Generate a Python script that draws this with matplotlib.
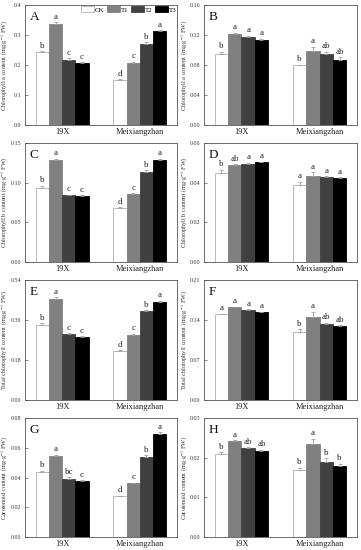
import matplotlib
matplotlib.use("Agg")
import matplotlib.pyplot as plt
import numpy as np

plt.rcParams['font.family'] = ['Liberation Serif', 'DejaVu Serif']
plt.rcParams['mathtext.fontset'] = 'stix'

cultivars = ["19X", "Meixiangzhan"]
treatments = ["CK", "T1", "T2", "T3"]
colors = ["#ffffff", "#808080", "#404040", "#000000"]

# values[treatment][cultivar]
chla = [[0.242, 0.149], [0.336, 0.207], [0.217, 0.271], [0.206, 0.312]]
chla_err = [[0.004, 0.003], [0.006, 0.004], [0.005, 0.005], [0.003, 0.004]]
chla_let = [["b", "d"], ["a", "c"], ["c", "b"], ["c", "a"]]

chla2 = [[0.0947, 0.0796], [0.1213, 0.0991], [0.1173, 0.0947], [0.1133, 0.0871]]
chla2_err = [[0.003, 0.001], [0.002, 0.005], [0.002, 0.003], [0.002, 0.003]]
chla2_let = [["b", "b"], ["a", "a"], ["a", "ab"], ["a", "ab"]]

chlb = [[0.093, 0.068], [0.129, 0.086], [0.084, 0.114], [0.083, 0.129]]
chlb_err = [[0.003, 0.001], [0.001, 0.001], [0.001, 0.002], [0.001, 0.001]]
chlb_let = [["b", "d"], ["a", "c"], ["c", "b"], ["c", "a"]]

chlb2 = [[0.045, 0.039], [0.049, 0.0433], [0.0496, 0.0428], [0.0503, 0.0423]]
chlb2_err = [[0.0015, 0.0015], [0.0004, 0.002], [0.0005, 0.0004], [0.0003, 0.0004]]
chlb2_let = [["b", "a"], ["ab", "a"], ["a", "a"], ["a", "a"]]

tot = [[0.338, 0.2205], [0.455, 0.294], [0.297, 0.399], [0.285, 0.4425]]
tot_err = [[0.008, 0.003], [0.008, 0.005], [0.004, 0.005], [0.003, 0.005]]
tot_let = [["b", "d"], ["a", "c"], ["c", "b"], ["c", "a"]]

tot2 = [[0.150, 0.1196], [0.162, 0.1458], [0.1575, 0.1336], [0.1534, 0.1295]]
tot2_err = [[0.001, 0.004], [0.001, 0.009], [0.001, 0.002], [0.001, 0.001]]
tot2_let = [["a", "b"], ["a", "a"], ["a", "ab"], ["a", "ab"]]

car = [[0.044, 0.0273], [0.0547, 0.036], [0.0393, 0.054], [0.0376, 0.0693]]
car_err = [[0.0005, 0.0005], [0.0005, 0.0004], [0.0008, 0.0010], [0.0004, 0.0010]]
car_let = [["b", "d"], ["a", "c"], ["bc", "b"], ["c", "a"]]

car2 = [[0.0208, 0.0170], [0.0241, 0.0234], [0.0225, 0.0188], [0.0217, 0.0180]]
car2_err = [[0.0006, 0.0005], [0.0003, 0.0014], [0.0002, 0.0010], [0.0003, 0.0005]]
car2_let = [["b", "b"], ["a", "a"], ["ab", "b"], ["ab", "b"]]

unit = r" (mg$\cdot$g$^{-1}$ FW)"
panels = [
    ("A", chla, chla_err, chla_let, 0.4, [0.0, 0.1, 0.2, 0.3, 0.4], "%.1f", "Chlorophyll a content"),
    ("B", chla2, chla2_err, chla2_let, 0.16, [0.0, 0.04, 0.08, 0.12, 0.16], "%.2f", "Chlorophyll a content"),
    ("C", chlb, chlb_err, chlb_let, 0.15, [0.0, 0.05, 0.10, 0.15], "%.2f", "Chlorophyll b content"),
    ("D", chlb2, chlb2_err, chlb2_let, 0.06, [0.0, 0.02, 0.04, 0.06], "%.2f", "Chlorophyll b content"),
    ("E", tot, tot_err, tot_let, 0.54, [0.0, 0.18, 0.36, 0.54], "%.2f", "Total chlorophyll content"),
    ("F", tot2, tot2_err, tot2_let, 0.21, [0.0, 0.07, 0.14, 0.21], "%.2f", "Total chlorophyll content"),
    ("G", car, car_err, car_let, 0.08, [0.0, 0.02, 0.04, 0.06, 0.08], "%.2f", "Carotenoid content"),
    ("H", car2, car2_err, car2_let, 0.03, [0.0, 0.01, 0.02, 0.03], "%.2f", "Carotenoid content"),
]

W, H = 361, 550
fig = plt.figure(figsize=(W / 100, H / 100), dpi=100)
fig.patch.set_facecolor("white")

cols_px = [(25, 177), (204, 357)]
rows_px = [(5, 125), (143, 262), (280, 400), (418, 537)]

x = np.arange(len(cultivars))
bw = 0.171
spine_col = "#555555"

for i, (lab, vals, errs, lets, ymax, ticks, fmt, ylabel) in enumerate(panels):
    r, c = divmod(i, 2)
    x0, x1 = cols_px[c]
    t, b = rows_px[r]
    ax = fig.add_axes([x0 / W, 1 - b / H, (x1 - x0) / W, (b - t) / H])
    for k in range(4):
        pos = x + (k - 1.5) * bw
        ec = "#b0b0b0" if k == 0 else colors[k]
        ax.bar(pos, vals[k], bw, color=colors[k], edgecolor=ec, linewidth=0.6,
               label=treatments[k], zorder=2)
        ax.errorbar(pos, vals[k], yerr=[np.zeros(2), errs[k]], fmt="none",
                    ecolor="#a0a0a0", elinewidth=0.6, capsize=1.2, capthick=0.6, zorder=3)
        for j in range(2):
            ax.text(pos[j], vals[k][j] + errs[k][j] + ymax * 0.012, lets[k][j],
                    ha="center", va="bottom", fontsize=6.5, color="#222222")
    ax.set_xlim(-0.48, 1.48)
    ax.set_ylim(0, ymax)
    ax.set_yticks(ticks)
    ax.set_yticklabels([fmt % v for v in ticks])
    ax.set_xticks(x)
    ax.set_xticklabels(cultivars)
    ax.tick_params(axis="y", direction="in", labelsize=4.3, length=2, width=0.5, pad=2.5,
                   colors=spine_col, labelcolor="#333333")
    ax.tick_params(axis="x", direction="in", labelsize=6, length=2, width=0.5, pad=2.5,
                   colors=spine_col, labelcolor="#222222")
    for s in ax.spines.values():
        s.set_color(spine_col)
        s.set_linewidth(0.6)
    ax.set_ylabel(ylabel + unit, fontsize=4.5, color="#333333", labelpad=1)
    ax.yaxis.set_label_coords(-0.097 if c == 0 else -0.092, 0.5)
    ax.text(0.03, 0.95, lab, transform=ax.transAxes, fontsize=9.5, ha="left", va="top",
            color="#111111")
    if i == 0:
        ax.legend(loc="upper right", bbox_to_anchor=(1.005, 1.0), ncol=4, frameon=False,
                  fontsize=5, handlelength=1.9, handleheight=0.9, handletextpad=0.15,
                  columnspacing=0.3, borderaxespad=0.1, borderpad=0.1)

fig.savefig("out.png", dpi=100, facecolor="white")
